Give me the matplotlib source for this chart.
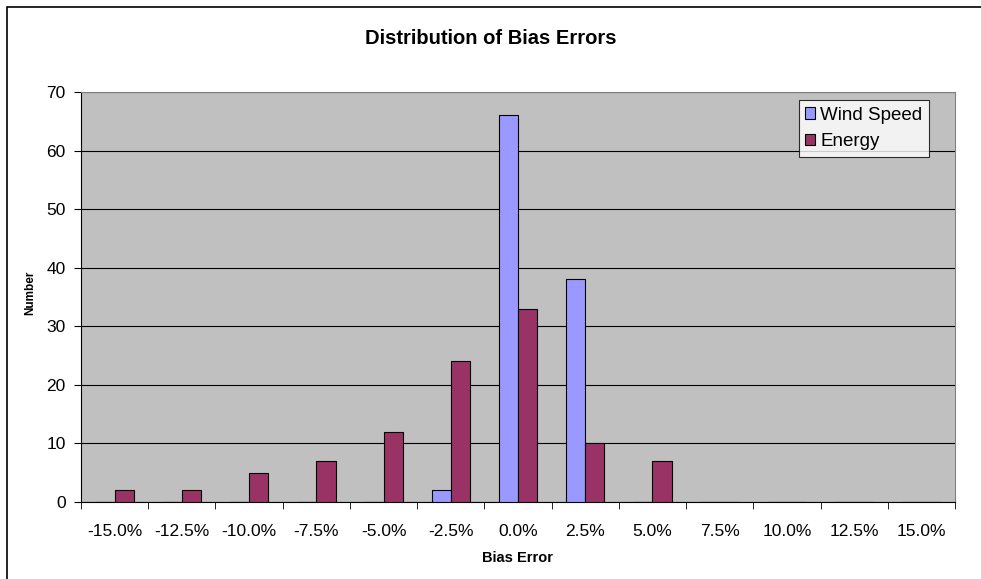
import matplotlib.pyplot as plt
import numpy as np
from matplotlib.patches import Rectangle

plt.rcParams['font.family'] = ['Liberation Sans', 'DejaVu Sans']

categories = ["-15.0%", "-12.5%", "-10.0%", "-7.5%", "-5.0%", "-2.5%", "0.0%",
              "2.5%", "5.0%", "7.5%", "10.0%", "12.5%", "15.0%"]
wind_speed = [0, 0, 0, 0, 0, 2, 66, 38, 0, 0, 0, 0, 0]
energy = [2, 2, 5, 7, 12, 24, 33, 10, 7, 0, 0, 0, 0]


def printplot():
    fig = plt.figure(figsize=(9.81, 5.79), dpi=100)
    ax = fig.add_axes([81 / 981, 1 - 502 / 579, (955 - 81) / 981, (502 - 92) / 579])

    # figure border
    fig.patches.append(Rectangle((7 / 981, -0.01), 1.0, 1 - 7 / 579 + 0.01,
                                 transform=fig.transFigure, fill=False,
                                 edgecolor="black", linewidth=1.2))

    x = np.arange(len(categories))
    w = 1 / 3.5
    ax.bar(x - w / 2, wind_speed, w, color="#9999FF", edgecolor="black",
           linewidth=0.8, label="Wind Speed", zorder=3)
    ax.bar(x + w / 2, energy, w, color="#993366", edgecolor="black",
           linewidth=0.8, label="Energy", zorder=3)

    ax.set_facecolor("#C0C0C0")
    ax.set_xlim(-0.5, len(categories) - 0.5)
    ax.set_ylim(0, 70)
    ax.set_yticks(range(0, 71, 10))
    ax.yaxis.grid(True, color="black", linewidth=0.8, zorder=1)
    ax.set_xticks(x)
    ax.set_xticklabels(categories, fontsize=12.5)
    ax.set_xticks(np.arange(-0.5, len(categories)), minor=True)
    ax.tick_params(axis="x", which="major", length=0, pad=16)
    ax.tick_params(axis="x", which="minor", length=5, color="black")
    ax.tick_params(axis="y", length=5, labelsize=12.5, pad=6)
    for s in ["top", "right"]:
        ax.spines[s].set_color("#808080")
    for s in ["left", "bottom"]:
        ax.spines[s].set_color("black")

    ax.set_xlabel("Bias Error", fontsize=10.5, fontweight="bold")
    ax.xaxis.set_label_coords(0.5, -0.12)
    ax.set_ylabel("Number", fontsize=8.5, fontweight="bold")
    ax.yaxis.set_label_coords(-0.051, 0.51)
    fig.text(0.5, 1 - 38 / 579, "Distribution of Bias Errors", ha="center",
             va="center", fontsize=14.5, fontweight="bold")

    leg = ax.legend(loc="upper right", bbox_to_anchor=(0.970, 0.980),
                    fontsize=13.5, frameon=True, fancybox=False,
                    handlelength=0.55, handleheight=0.55, handletextpad=0.25,
                    borderpad=0.35, labelspacing=0.5, borderaxespad=0)
    leg.get_frame().set_edgecolor("black")
    leg.get_frame().set_facecolor("white")
    leg.get_frame().set_linewidth(0.8)

    fig.savefig("out.png", dpi=100)


if __name__ == "__main__":
    printplot()
